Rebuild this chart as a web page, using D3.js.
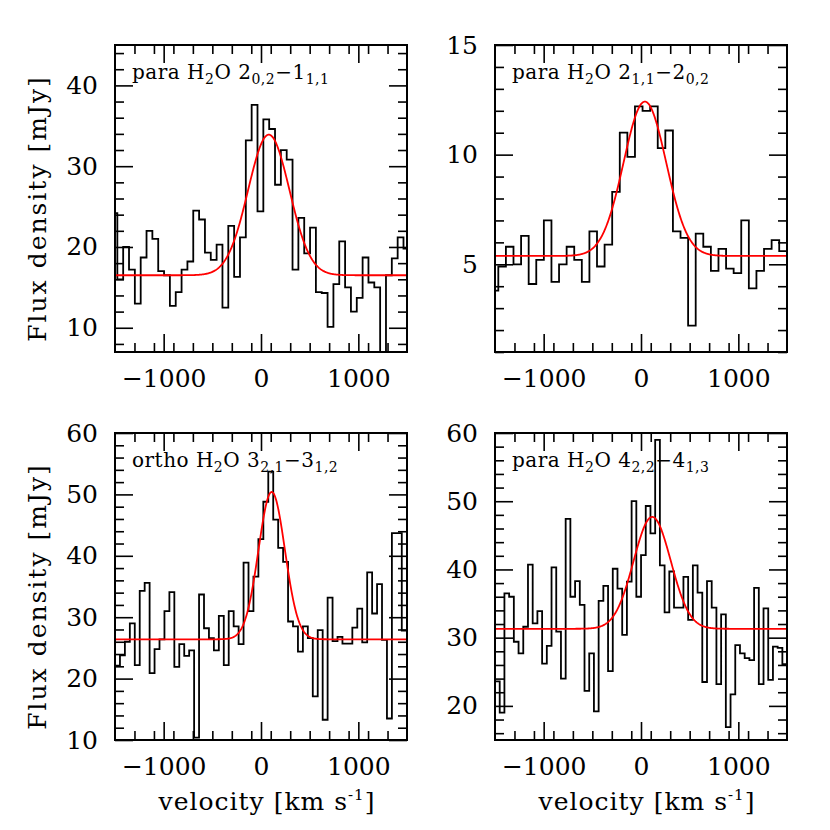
<!DOCTYPE html>
<html>
<head>
<meta charset="utf-8">
<script src="https://cdn.jsdelivr.net/npm/d3@7"></script>
<style>
  body { margin: 0; background: #fff; }
  text { font-family: "DejaVu Serif", "Liberation Serif", serif; fill: #000; }
</style>
</head>
<body>
<svg id="chart" width="830" height="830"></svg>
<script>
// line names, [text, isSubscript]
var lineTitles = [
  [["para H", 0], ["2", 1], ["O 2", 0], ["0,2", 1], ["\u22121", 0], ["1,1", 1]],
  [["para H", 0], ["2", 1], ["O 2", 0], ["1,1", 1], ["\u22122", 0], ["0,2", 1]],
  [["ortho H", 0], ["2", 1], ["O 3", 0], ["2,1", 1], ["\u22123", 0], ["1,2", 1]],
  [["para H", 0], ["2", 1], ["O 4", 0], ["2,2", 1], ["\u22124", 0], ["1,3", 1]]
];

// spectra (mJy per channel)
var fluxA = [24.2, 16.0, 20.0, 17.2, 13.0, 18.7, 22.0, 21.0, 17.0, 16.5, 12.7, 14.4, 17.2, 18.2, 24.5, 23.4, 19.3,
  18.4, 20.3, 12.5, 22.6, 16.3, 21.2, 33.2, 37.6, 24.4, 35.8, 34.6, 27.7, 32.0, 30.8, 17.2, 23.6, 19.2, 22.4, 14.4,
  14.3, 10.1, 15.4, 20.7, 15.0, 12.0, 13.7, 18.7, 15.6, 15.0, 6.0, 16.5, 18.6, 21.2, 19.8];
var fluxB = [3.8, 4.9, 5.8, 5.0, 6.3, 4.1, 5.2, 7.0, 4.2, 5.0, 5.8, 5.2, 4.2, 6.5, 4.9, 5.9, 8.3, 11.0, 9.9, 12.2,
  12.0, 12.2, 10.3, 11.1, 6.5, 6.2, 2.2, 6.4, 5.8, 4.7, 5.7, 4.8, 4.6, 7.0, 3.9, 4.7, 5.7, 6.1, 5.6];
var fluxC = [22.1, 23.8, 26.0, 29.0, 22.2, 34.3, 35.6, 20.9, 24.8, 26.4, 31.0, 34.1, 21.9, 25.6, 23.7, 24.6, 10.4,
  33.7, 28.2, 26.6, 24.6, 30.2, 22.2, 31.0, 28.5, 25.6, 38.9, 31.0, 36.6, 42.7, 48.8, 53.7, 45.9, 41.3, 39.0, 29.3,
  28.5, 24.4, 28.5, 26.6, 17.1, 27.9, 13.3, 33.2, 26.1, 26.8, 25.7, 25.7, 28.3, 31.4, 25.9, 37.3, 30.6, 35.4, 26.3,
  13.5, 43.7, 43.7, 27.8];
var fluxD = [23.6, 19.0, 36.5, 36.0, 29.4, 27.7, 31.6, 40.7, 32.1, 33.9, 26.2, 28.8, 40.3, 30.9, 24.0, 47.4, 36.0,
  38.3, 34.8, 22.2, 27.7, 19.2, 35.4, 37.6, 25.1, 40.1, 37.2, 30.4, 38.2, 50.0, 36.0, 42.1, 49.3, 45.3, 59.0, 40.6,
  33.7, 39.7, 34.4, 34.4, 38.9, 32.6, 40.6, 36.6, 23.5, 38.3, 34.4, 23.2, 33.4, 16.9, 21.7, 28.9, 27.7, 27.0, 26.7,
  37.3, 23.2, 34.3, 23.8, 28.7, 28.5, 26.1];
var spectra = [fluxA, fluxB, fluxC, fluxD];

// channel grid (km/s): left edge of first channel, channel width
var chanStart = [-1536, -1544, -1500, -1500];
var chanWidth = [60, 78, 50.8, 48.4];

// gaussian fits
var fitBase = [16.5, 5.38, 26.4, 31.3];
var fitAmp = [17.4, 7.04, 24.0, 16.4];
var fitCenter = [80, 40, 110, 115];
var fitFwhm = [500, 515, 320, 450];

// axes
var xDomain = [-1500, 1500];
var xMajorTicks = [-1000, 0, 1000];
var xMinorStep = 200;
var yDomains = [[7, 45], [1, 15], [10, 60], [15, 60]];
var yMajorTicks = [[10, 20, 30, 40], [5, 10, 15], [10, 20, 30, 40, 50, 60], [20, 30, 40, 50, 60]];
var yMinorStep = [2, 1, 2, 2];

var yTitle = "Flux density [mJy]";

var panelLeft = [115, 495], panelTop = [45, 433];
var pw = 292, ph = 307;

var svg = d3.select("#chart");

spectra.forEach(function(flux, p) {
  var col = p % 2, row = Math.floor(p / 2);
  var x0 = panelLeft[col], y0 = panelTop[row];
  var g = svg.append("g").attr("transform", "translate(" + x0 + "," + y0 + ")");

  var x = d3.scaleLinear().domain(xDomain).range([0, pw]);
  var y = d3.scaleLinear().domain(yDomains[p]).range([ph, 0]);

  g.append("clipPath").attr("id", "clip" + p)
    .append("rect").attr("width", pw).attr("height", ph);

  // histogram
  var pts = flux.map(function(v, i) { return [chanStart[p] + i * chanWidth[p], v]; });
  pts.push([chanStart[p] + flux.length * chanWidth[p], flux[flux.length - 1]]);
  var step = d3.line()
    .x(function(d) { return x(d[0]); })
    .y(function(d) { return y(d[1]); })
    .curve(d3.curveStepAfter);
  g.append("path")
    .attr("clip-path", "url(#clip" + p + ")")
    .attr("d", step(pts))
    .style("fill", "none")
    .style("stroke", "#000")
    .style("stroke-width", 1.8);

  // gaussian fit
  var gauss = d3.range(xDomain[0], xDomain[1] + 1, 5).map(function(v) {
    var t = (v - fitCenter[p]) / fitFwhm[p];
    return [v, fitBase[p] + fitAmp[p] * Math.exp(-4 * Math.LN2 * t * t)];
  });
  g.append("path")
    .attr("clip-path", "url(#clip" + p + ")")
    .attr("d", d3.line().x(function(d) { return x(d[0]); }).y(function(d) { return y(d[1]); })(gauss))
    .style("fill", "none")
    .style("stroke", "#ff0000")
    .style("stroke-width", 1.8);

  // ticks, all inward on four sides
  var xMinor = d3.range(xDomain[0] + xMinorStep / 2 + 100, xDomain[1], xMinorStep)
    .filter(function(v) { return xMajorTicks.indexOf(v) < 0; });
  var yd = yDomains[p];
  var yMinor = d3.range(Math.ceil(yd[0] / yMinorStep[p]) * yMinorStep[p], yd[1] + 0.001, yMinorStep[p])
    .filter(function(v) { return yMajorTicks[p].indexOf(v) < 0; });

  function addAxis(axis, tx, ty) {
    var a = g.append("g").attr("transform", "translate(" + tx + "," + ty + ")").call(axis);
    a.select(".domain").remove();
    a.selectAll("line").style("stroke", "#000").style("stroke-width", 1.6);
    a.selectAll("text").style("font-family", "DejaVu Serif").style("font-size", "25px").style("fill", "#000");
    return a;
  }
  addAxis(d3.axisBottom(x).tickValues(xMajorTicks).tickSize(-18).tickPadding(17)
    .tickFormat(function(d) { return d < 0 ? "\u2212" + Math.abs(d) : d; }), 0, ph);
  addAxis(d3.axisBottom(x).tickValues(xMinor).tickSize(-9).tickFormat(""), 0, ph);
  addAxis(d3.axisTop(x).tickValues(xMajorTicks).tickSize(-18).tickFormat(""), 0, 0);
  addAxis(d3.axisTop(x).tickValues(xMinor).tickSize(-9).tickFormat(""), 0, 0);
  addAxis(d3.axisLeft(y).tickValues(yMajorTicks[p]).tickSize(-18).tickPadding(17), 0, 0);
  addAxis(d3.axisLeft(y).tickValues(yMinor).tickSize(-9).tickFormat(""), 0, 0);
  addAxis(d3.axisRight(y).tickValues(yMajorTicks[p]).tickSize(-18).tickFormat(""), pw, 0);
  addAxis(d3.axisRight(y).tickValues(yMinor).tickSize(-9).tickFormat(""), pw, 0);

  // frame
  g.append("rect")
    .attr("width", pw).attr("height", ph)
    .style("fill", "none")
    .style("stroke", "#000")
    .style("stroke-width", 2);

  // line name
  var title = g.append("text")
    .attr("x", 17).attr("y", 34)
    .style("font-size", "20px")
    .style("letter-spacing", "0.5px");
  lineTitles[p].forEach(function(part, k) {
    var prevSub = k > 0 && lineTitles[p][k - 1][1];
    title.append("tspan")
      .attr("dy", part[1] ? 5 : (prevSub ? -5 : 0))
      .style("font-size", part[1] ? "14px" : "20px")
      .text(part[0]);
  });

  // axis titles
  if (col === 0) {
    svg.append("text")
      .attr("transform", "translate(46," + (y0 + ph / 2 + 10) + ") rotate(-90)")
      .attr("text-anchor", "middle")
      .style("font-size", "25px")
      .style("letter-spacing", "2px")
      .text(yTitle);
  }
  if (row === 1) {
    var xt = svg.append("text")
      .attr("x", x0 + pw / 2 + 6).attr("y", 810)
      .attr("text-anchor", "middle")
      .style("font-size", "25px")
      .style("letter-spacing", "1px");
    xt.append("tspan").text("velocity [km s");
    xt.append("tspan").attr("dy", -10).style("font-size", "15px").text("-1");
    xt.append("tspan").attr("dy", 10).text("]");
  }
});
</script>
</body>
</html>
